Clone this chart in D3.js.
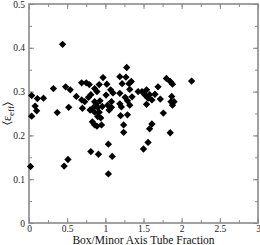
<!DOCTYPE html>
<html>
<head>
<meta charset="utf-8">
<script src="https://cdn.jsdelivr.net/npm/d3@7"></script>
<style>
    html, body { margin: 0; padding: 0; background: #fff; }
    svg { display: block; }
</style>
</head>
<body>
<div id="chart"></div>
<script>
// chart data
const xValues = [
    0.02, 0.035, 0.035, 0.08, 0.10, 0.11, 0.19, 0.32, 0.37, 0.44, 0.46, 0.51, 0.48, 0.54, 0.52,
    0.62, 0.69, 0.75, 0.79, 0.69, 0.73, 0.70, 0.80, 0.78, 0.81, 0.86, 0.89, 0.97, 0.92, 1.02,
    0.86, 0.88, 0.93, 0.84, 0.90, 0.96, 0.86, 0.92, 0.90, 0.94, 0.83, 0.86, 0.89, 0.95,
    0.81, 0.91, 1.04, 1.09, 1.04,
    1.01, 1.07, 1.10, 1.03, 1.08, 1.05, 1.08, 1.19, 1.28, 1.27, 1.34, 1.31, 1.22, 1.19, 1.26,
    1.32, 1.19, 1.21, 1.29, 1.32, 1.20, 1.29, 1.24, 1.24, 1.43, 1.35,
    1.48, 1.54, 1.52, 1.58, 1.65, 1.56, 1.61, 1.72, 1.54, 1.69, 1.80, 1.85, 1.88, 1.87, 1.86,
    1.90, 1.88, 1.76, 2.13, 1.61, 1.58, 1.85, 1.56, 1.50
];
const yValues = [
    0.129, 0.291, 0.244, 0.267, 0.256, 0.284, 0.285, 0.307, 0.252, 0.408, 0.130, 0.145, 0.311, 0.304, 0.264,
    0.289, 0.320, 0.320, 0.316, 0.281, 0.277, 0.262, 0.258, 0.287, 0.293, 0.307, 0.300, 0.332, 0.316, 0.317,
    0.277, 0.272, 0.279, 0.263, 0.264, 0.266, 0.253, 0.253, 0.243, 0.240, 0.231, 0.224, 0.221, 0.224,
    0.163, 0.157, 0.180, 0.152, 0.112,
    0.292, 0.304, 0.297, 0.269, 0.277, 0.258, 0.264, 0.334, 0.355, 0.333, 0.323, 0.318, 0.318, 0.296, 0.287,
    0.305, 0.272, 0.265, 0.279, 0.269, 0.245, 0.247, 0.224, 0.207, 0.300, 0.288,
    0.300, 0.304, 0.292, 0.293, 0.294, 0.285, 0.281, 0.283, 0.271, 0.311, 0.330, 0.323, 0.317, 0.289, 0.277,
    0.277, 0.269, 0.251, 0.324, 0.226, 0.215, 0.206, 0.184, 0.169
];
const xTicks = [0, 0.5, 1, 1.5, 2, 2.5, 3];
const xTickLabels = ['0', '0.5', '1', '1.5', '2', '2.5', '3'];
const yTicks = [0, 0.1, 0.2, 0.3, 0.4, 0.5];
const yTickLabels = ['0', '0.1', '0.2', '0.3', '0.4', '0.5'];
const xLabel = 'Box/Minor Axis Tube Fraction';

const width = 260;
const height = 245;
const margin = {t:4, r:2, b:22, l:29};
const w = width - margin.l - margin.r;
const h = height - margin.t - margin.b;

const frameColor = '#8a8a8a';
const font = '"Liberation Serif", "DejaVu Serif", serif';

const data = xValues.map((x, i) => ({x: x, y: yValues[i]}));

// scales
const scaleX = d3.scaleLinear()
    .domain([0, 3])
    .range([0, w]);
const scaleY = d3.scaleLinear()
    .domain([0, 0.5])
    .range([h, 0]);

const svg = d3.select('#chart')
    .append('svg')
    .attr('width', width)
    .attr('height', height);

const plot = svg.append('g')
    .attr('transform', `translate(${margin.l},${margin.t})`);

// minor ticks, inside on all four sides
const xMinor = d3.range(0, 3.001, 0.25);
const yMinor = d3.range(0, 0.5001, 0.05);

function tickAxis(axis, scale, values, size) {
    return axis(scale)
        .tickValues(values)
        .tickSize(-size)
        .tickFormat('');
}

const axes = [
    {axis: d3.axisBottom, scale: scaleX, tx: `translate(0,${h})`, major: xTicks, minor: xMinor},
    {axis: d3.axisTop, scale: scaleX, tx: 'translate(0,0)', major: xTicks, minor: xMinor},
    {axis: d3.axisLeft, scale: scaleY, tx: 'translate(0,0)', major: yTicks, minor: yMinor},
    {axis: d3.axisRight, scale: scaleY, tx: `translate(${w},0)`, major: yTicks, minor: yMinor}
];

axes.forEach(a => {
    plot.append('g')
        .attr('transform', a.tx)
        .call(tickAxis(a.axis, a.scale, a.minor, 3))
        .call(g => g.select('.domain').remove())
        .call(g => g.selectAll('line').attr('stroke', frameColor).attr('stroke-width', 1));
    plot.append('g')
        .attr('transform', a.tx)
        .call(tickAxis(a.axis, a.scale, a.major, 5))
        .call(g => g.select('.domain').remove())
        .call(g => g.selectAll('line').attr('stroke', frameColor).attr('stroke-width', 1));
});

// frame
plot.append('rect')
    .attr('x', 0)
    .attr('y', 0)
    .attr('width', w)
    .attr('height', h)
    .attr('fill', 'none')
    .attr('stroke', frameColor)
    .attr('stroke-width', 1.6);

// tick labels
plot.append('g')
    .attr('transform', `translate(0,${h})`)
    .call(d3.axisBottom(scaleX)
        .tickValues(xTicks)
        .tickSize(0)
        .tickPadding(2)
        .tickFormat((d, i) => xTickLabels[i]))
    .call(g => g.select('.domain').remove())
    .call(g => g.selectAll('text')
        .attr('font-family', font)
        .attr('font-size', 9.5)
        .attr('fill', '#222'));

plot.append('g')
    .call(d3.axisLeft(scaleY)
        .tickValues(yTicks)
        .tickSize(0)
        .tickPadding(4)
        .tickFormat((d, i) => yTickLabels[i]))
    .call(g => g.select('.domain').remove())
    .call(g => g.selectAll('text')
        .attr('font-family', font)
        .attr('font-size', 9.5)
        .attr('fill', '#222'));

// diamonds
const diamond = d3.symbol().type(d3.symbolDiamond2).size(34);

plot.append('g')
    .selectAll('path')
    .data(data)
    .join('path')
    .attr('d', diamond)
    .attr('transform', d => `translate(${scaleX(d.x)},${scaleY(d.y)})`)
    .attr('fill', '#000');

// axis titles
svg.append('text')
    .attr('x', margin.l + w / 2)
    .attr('y', 244)
    .attr('text-anchor', 'middle')
    .attr('font-family', font)
    .attr('font-size', 11.5)
    .attr('fill', '#111')
    .text(xLabel);

const yTitle = svg.append('text')
    .attr('transform', `translate(11,${margin.t + h / 2}) rotate(-90)`)
    .attr('text-anchor', 'middle')
    .attr('font-family', font)
    .attr('font-size', 12)
    .attr('fill', '#111');
yTitle.append('tspan').text('\u2329\u03b5');
yTitle.append('tspan').attr('font-size', 9).attr('dy', 3).text('eff');
yTitle.append('tspan').attr('dy', -3).text('\u232a');
</script>
</body>
</html>
